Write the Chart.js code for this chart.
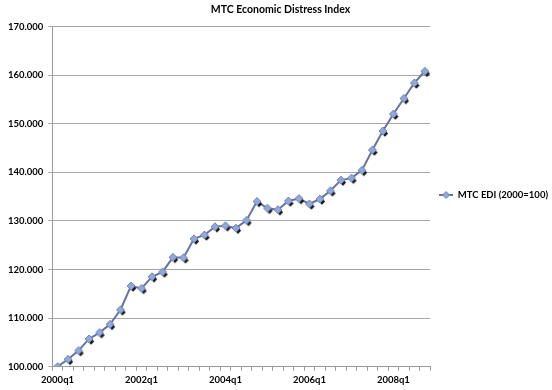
<!DOCTYPE html>
<html>
<head>
<meta charset="utf-8">
<script src="https://cdn.jsdelivr.net/npm/chart.js@4/dist/chart.umd.min.js"></script>
<style>
html,body{margin:0;padding:0;background:#fff;}
#wrap{width:552px;height:390px;position:relative;}
</style>
</head>
<body>
<div id="wrap"><canvas id="c" width="552" height="390"></canvas></div>
<script>
const categories = [
  "2000q1","2000q2","2000q3","2000q4",
  "2001q1","2001q2","2001q3","2001q4",
  "2002q1","2002q2","2002q3","2002q4",
  "2003q1","2003q2","2003q3","2003q4",
  "2004q1","2004q2","2004q3","2004q4",
  "2005q1","2005q2","2005q3","2005q4",
  "2006q1","2006q2","2006q3","2006q4",
  "2007q1","2007q2","2007q3","2007q4",
  "2008q1","2008q2","2008q3","2008q4"
];
const ediValues = [
  100.0, 101.5, 103.3, 105.7,
  107.0, 108.7, 111.7, 116.6,
  116.1, 118.5, 119.5, 122.5,
  122.4, 126.3, 127.1, 128.8,
  129.0, 128.5, 130.1, 134.0,
  132.6, 132.3, 134.1, 134.6,
  133.5, 134.5, 136.2, 138.4,
  138.8, 140.4, 144.6, 148.5,
  152.0, 155.2, 158.4, 160.8
];
const yTicks = [100, 110, 120, 130, 140, 150, 160, 170];
const seriesName = "MTC EDI (2000=100)";
const chartTitle = "MTC Economic Distress Index";

const LINE = "#6771A8";
const FILL = "#93A8D6";
const EDGE = "#6E84BC";

function diamond(ctx, cx, cy, r) {
  ctx.beginPath();
  ctx.moveTo(cx, cy - r);
  ctx.lineTo(cx + r, cy);
  ctx.lineTo(cx, cy + r);
  ctx.lineTo(cx - r, cy);
  ctx.closePath();
}

// marker with drop shadow
const marker = document.createElement("canvas");
marker.width = 16; marker.height = 16;
(function(){
  const g = marker.getContext("2d");
  g.fillStyle = "rgba(0,0,0,0.9)";
  diamond(g, 10, 10.5, 3.2); g.fill();
  g.fillStyle = FILL; g.strokeStyle = EDGE; g.lineWidth = 1;
  diamond(g, 8, 8, 4); g.fill(); g.stroke();
})();

// legend marker: line with diamond
const legendMarker = document.createElement("canvas");
legendMarker.width = 14; legendMarker.height = 10;
(function(){
  const g = legendMarker.getContext("2d");
  g.strokeStyle = LINE; g.lineWidth = 2;
  g.beginPath(); g.moveTo(0, 5); g.lineTo(14, 5); g.stroke();
  g.fillStyle = FILL; g.strokeStyle = EDGE; g.lineWidth = 1;
  diamond(g, 7, 5, 3.5); g.fill(); g.stroke();
})();

const FONT = "Lato";

new Chart(document.getElementById("c"), {
  type: "line",
  data: {
    labels: categories,
    datasets: [{
      label: seriesName,
      data: ediValues,
      borderColor: LINE,
      borderWidth: 2,
      tension: 0,
      pointStyle: marker,
      pointRadius: 4,
      pointHoverRadius: 4,
      backgroundColor: FILL
    }]
  },
  options: {
    responsive: false,
    animation: false,
    devicePixelRatio: 1,
    layout: { padding: { left: 3, right: -6, top: 0, bottom: 0 } },
    plugins: {
      title: {
        display: true,
        text: chartTitle,
        color: "#000",
        font: { family: FONT, size: 10.5, weight: "bold" },
        padding: { top: 3, bottom: 11 }
      },
      legend: {
        display: true,
        position: "right",
        align: "center",
        labels: {
          usePointStyle: true,
          pointStyleWidth: 14,
          padding: 9,
          color: "#000",
          font: { family: FONT, size: 9.5, weight: "bold" },
          generateLabels: (chart) => [{
            text: seriesName,
            pointStyle: legendMarker,
            fillStyle: FILL,
            strokeStyle: LINE,
            lineWidth: 0,
            hidden: false,
            datasetIndex: 0
          }]
        }
      },
      tooltip: { enabled: false }
    },
    scales: {
      x: {
        type: "category",
        offset: true,
        grid: {
          offset: true,
          drawOnChartArea: false,
          drawTicks: true,
          tickLength: 4,
          color: "#9A9A9A"
        },
        border: { color: "#9A9A9A", width: 1 },
        ticks: {
          autoSkip: false,
          maxRotation: 0,
          minRotation: 0,
          padding: 4,
          color: "#000",
          font: { family: FONT, size: 9.5, weight: "bold" },
          callback: function(v, i) { return i % 8 === 0 ? categories[i] : ""; }
        }
      },
      y: {
        min: yTicks[0],
        max: yTicks[yTicks.length - 1],
        afterBuildTicks: (scale) => { scale.ticks = yTicks.map(v => ({ value: v })); },
        grid: {
          color: "#A6A6A6",
          tickLength: 4,
          drawTicks: true
        },
        border: { color: "#9A9A9A", width: 1 },
        ticks: {
          padding: 5,
          color: "#000",
          font: { family: FONT, size: 9.5, weight: "bold" },
          callback: (v) => Number(v).toFixed(3)
        }
      }
    }
  }
});
</script>
</body>
</html>
